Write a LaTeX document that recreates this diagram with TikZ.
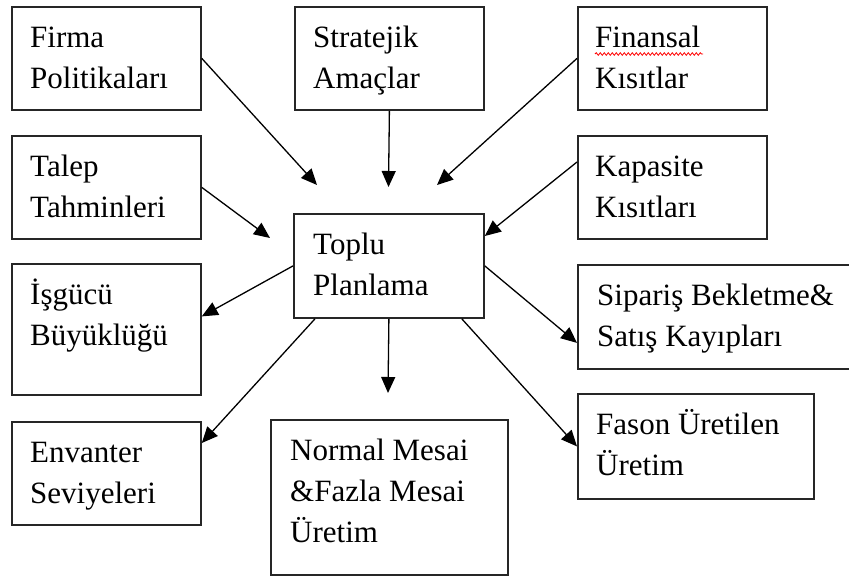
\documentclass[tikz,border=0pt]{standalone}
\usepackage{fontspec}
\setmainfont{Liberation Serif}
\usetikzlibrary{calc,arrows.meta,decorations.pathmorphing}

\tikzset{
  kutu/.style={draw=black!85, line width=1.8pt, anchor=north west, inner sep=0pt},
  yazi/.style={anchor=north west, inner sep=0pt, align=left, font=\fontsize{31}{41}\selectfont},
  ok/.style={line width=1.3pt, -{Triangle[length=16pt,width=14pt]}}
}
\newcommand\ust{\rule{0pt}{41pt}}

\begin{document}
\begin{tikzpicture}[x=1pt,y=-1pt]
\useasboundingbox[fill=white] (0,0) rectangle (849,576);

% Boxes
\node[kutu, minimum width=189, minimum height=103] (firma) at (11,6) {};
\node[kutu, minimum width=189, minimum height=103] (strat) at (294,6) {};
\node[kutu, minimum width=189, minimum height=103] (finansal) at (577,6) {};
\node[kutu, minimum width=189, minimum height=103] (talep) at (11,135) {};
\node[kutu, minimum width=189, minimum height=103] (kapasite) at (577,135) {};
\node[kutu, minimum width=190, minimum height=104] (toplu) at (293,213) {};
\node[kutu, minimum width=189, minimum height=131] (isgucu) at (11,263) {};
\node[kutu, minimum width=276, minimum height=104] (siparis) at (577,264) {};
\node[kutu, minimum width=189, minimum height=103] (envanter) at (11,421) {};
\node[kutu, minimum width=236, minimum height=105] (fason) at (577,393) {};
\node[kutu, minimum width=237, minimum height=155] (normal) at (270,419) {};

% Texts
\node[yazi] (firmaY) at ($(firma.north west)+(19,0)$) {\ust Firma\\Politikaları};
\node[yazi] (stratY) at ($(strat.north west)+(19,0)$) {\ust Stratejik\\Amaçlar};
\node[yazi] (finansalY) at ($(finansal.north west)+(18,0)$) {\ust Finansal\\Kısıtlar};
\node[yazi] (talepY) at ($(talep.north west)+(19,0)$) {\ust Talep\\Tahminleri};
\node[yazi] (kapasiteY) at ($(kapasite.north west)+(18,0)$) {\ust Kapasite\\Kısıtları};
\node[yazi] (topluY) at ($(toplu.north west)+(20,0)$) {\ust Toplu\\Planlama};
\node[yazi] (isgucuY) at ($(isgucu.north west)+(19,0)$) {\ust İşgücü\\Büyüklüğü};
\node[yazi] (siparisY) at ($(siparis.north west)+(20,0)$) {\ust Sipariş Bekletme\&\\Satış Kayıpları};
\node[yazi] (envanterY) at ($(envanter.north west)+(19,0)$) {\ust Envanter\\Seviyeleri};
\node[yazi] (fasonY) at ($(fason.north west)+(19,0)$) {\ust Fason Üretilen\\Üretim};
\node[yazi] (normalY) at ($(normal.north west)+(20,0)$) {\ust Normal Mesai\\\&Fazla Mesai\\Üretim};

% spell check underline
\draw[red, line width=0.8pt, decorate, decoration={snake, amplitude=1.3pt, segment length=4pt}]
  ($(finansal.north west)+(18,48)$) -- ++(108,0);

% Free ends
\coordinate (g1) at (317,185);
\coordinate (g2) at (388.5,187);
\coordinate (g3) at (437,185);
\coordinate (g4) at (270,238);
\coordinate (g5) at ($(toplu.north east)+(0,23)$);
\coordinate (k5) at ($(kapasite.north west)+(0,27)$);
\coordinate (c3) at (388,393);

% Inputs
\draw[ok] (firma.east) -- (g1);
\draw[ok] (strat.south) -- (g2);
\draw[ok] (finansal.west) -- (g3);
\draw[ok] (talep.east) -- (g4);
\draw[ok] (k5) -- (g5);

% Outputs
\draw[ok] (toplu.west) -- ($(isgucu.east)+(0,-13)$);
\draw[ok] ($(toplu.south west)+(22,0)$) -- ($(envanter.north east)+(0,22)$);
\draw[ok] (toplu.south) -- (c3);
\draw[ok] (toplu.east) -- ($(siparis.west)+(0,26)$);
\draw[ok] ($(toplu.south east)+(-23,0)$) -- (fason.west);
\end{tikzpicture}
\end{document}
